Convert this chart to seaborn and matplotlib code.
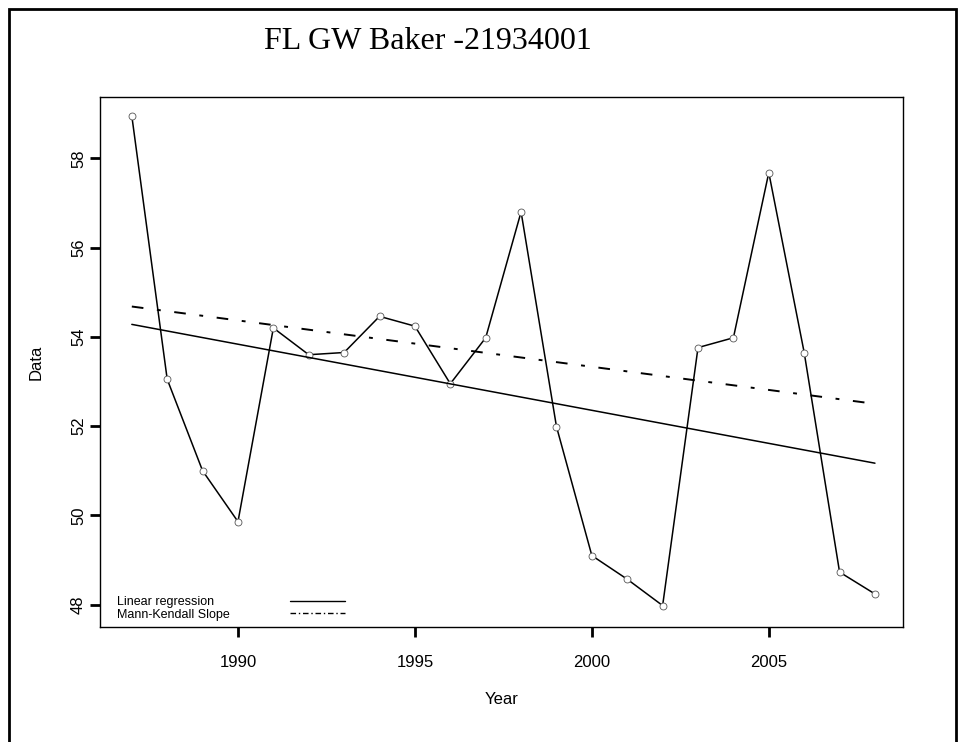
import numpy as np
import pandas as pd
import matplotlib
matplotlib.use("Agg")
import matplotlib.pyplot as plt
import seaborn as sns

years = list(range(1987, 2009))
values = [58.95, 53.05, 51.0, 49.86, 54.2, 53.6, 53.65, 54.46, 54.24, 52.95, 53.98,
          56.8, 51.99, 49.1, 48.57, 47.98, 53.76, 53.98, 57.68, 53.65, 48.73, 48.24]

# trend lines (value at first and last year)
trend_years = [1987, 2008]
linreg_ends = [54.28, 51.17]
mk_ends = [54.68, 52.50]

title = "FL GW Baker -21934001"
xticks = [1990, 1995, 2000, 2005]
yticks = [48, 50, 52, 54, 56, 58]

df = pd.DataFrame({"Year": years, "Data": values})
lr = pd.DataFrame({"Year": years,
                   "Data": np.interp(years, trend_years, linreg_ends)})
mk = pd.DataFrame({"Year": years,
                   "Data": np.interp(years, trend_years, mk_ends)})

sns.set_style("ticks", {"axes.edgecolor": "black", "text.color": "black",
                        "xtick.color": "black", "ytick.color": "black",
                        "axes.labelcolor": "black"})
plt.rcParams["font.family"] = ["Liberation Sans", "DejaVu Sans"]

fig = plt.figure(figsize=(9.64, 7.42), dpi=100)
ax = fig.add_axes([0.1037, 0.155, 0.8333, 0.714])

sns.lineplot(data=df, x="Year", y="Data", ax=ax, color="black", lw=1.1,
             marker="o", markersize=5, markerfacecolor="white",
             markeredgecolor="#555555", markeredgewidth=0.6)
sns.lineplot(data=lr, x="Year", y="Data", ax=ax, color="black", lw=1.1)
sns.lineplot(data=mk, x="Year", y="Data", ax=ax, color="black", lw=1.4,
             linestyle=(0, (6, 7, 2, 7)))

ax.set_xlim(1986.1, 2008.8)
ax.set_ylim(47.5, 59.37)
ax.set_xticks(xticks)
ax.set_yticks(yticks)
ax.set_xticklabels([str(x) for x in xticks], fontsize=12)
ax.set_yticklabels([str(y) for y in yticks], fontsize=12, rotation=90, va="center")
ax.tick_params(direction="out", length=7, width=2, colors="black")
ax.tick_params(axis="x", pad=13)
ax.tick_params(axis="y", pad=3)
for s in ax.spines.values():
    s.set_visible(True)
    s.set_linewidth(1)
ax.set_xlabel("Year", fontsize=12, labelpad=16)
ax.set_ylabel("Data", fontsize=12, labelpad=20)

# legend drawn as text in the lower-left corner
ax.text(0.021, 0.047, "Linear regression", transform=ax.transAxes, fontsize=9, va="center")
ax.text(0.021, 0.022, "Mann-Kendall Slope", transform=ax.transAxes, fontsize=9, va="center")
ax.plot([0.236, 0.305], [0.05, 0.05], transform=ax.transAxes, color="black", lw=1)
ax.plot([0.236, 0.305], [0.027, 0.027], transform=ax.transAxes, color="black", lw=1,
        linestyle=(0, (4, 2, 1, 2)))

fig.text(0.444, 0.944, title, fontsize=23, family="Liberation Serif",
         ha="center", va="center")

# outer frame
fig.patches.append(plt.Rectangle((9 / 964, -0.01), 947 / 964, 1 - 9 / 742 + 0.01,
                                 transform=fig.transFigure, fill=False,
                                 edgecolor="black", lw=2))

fig.savefig("out.png", dpi=100)
